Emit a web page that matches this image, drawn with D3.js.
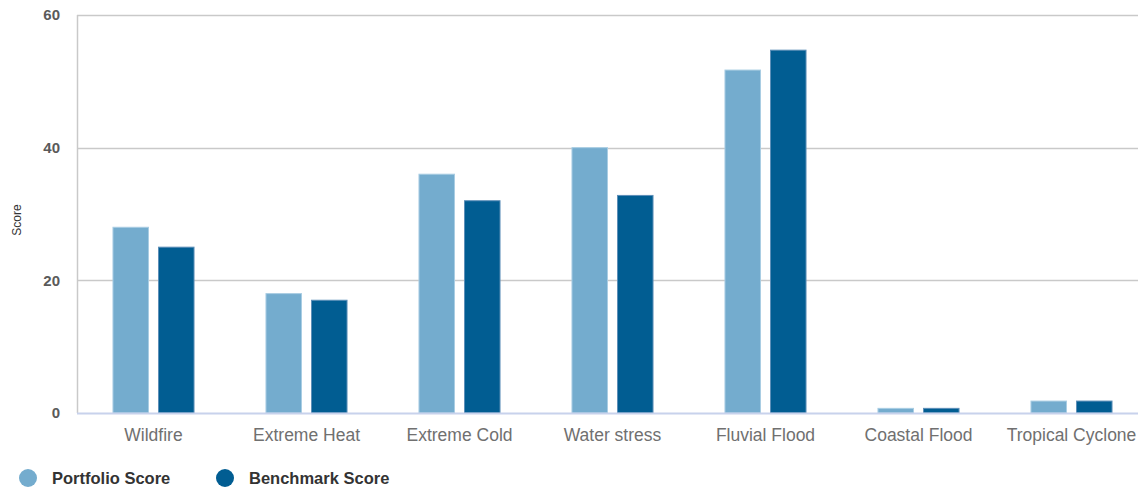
<!DOCTYPE html>
<html>
<head>
<meta charset="utf-8">
<script src="https://cdn.jsdelivr.net/npm/d3@7"></script>
<style>
  html, body { margin: 0; padding: 0; background: #fff; }
  svg { display: block; font-family: "Liberation Sans", Arial, sans-serif; }
</style>
</head>
<body>
<svg id="chart" width="1138" height="487"></svg>
<script>
// Hazard categories and scores
const categories = ["Wildfire", "Extreme Heat", "Extreme Cold", "Water stress", "Fluvial Flood", "Coastal Flood", "Tropical Cyclone"];
const portfolioScore = [28, 18, 36, 40, 51.7, 0.7, 1.8];
const benchmarkScore = [25, 17, 32, 32.8, 54.7, 0.7, 1.8];
const seriesNames = ["Portfolio Score", "Benchmark Score"];
const seriesColors = ["#74acce", "#015d92"];
const yTicks = [0, 20, 40, 60];

const svg = d3.select("#chart");
const margin = { left: 77, top: 15, bottom: 413 };
const plotRight = 1148;

const x = d3.scaleBand().domain(categories).range([margin.left, plotRight]).paddingInner(0).paddingOuter(0);
const x1 = d3.scaleBand().domain(seriesNames).range([0, x.bandwidth()]).paddingInner(0.22).paddingOuter(0.79);
const y = d3.scaleLinear().domain([0, 60]).range([margin.bottom, margin.top]);

// horizontal gridlines
svg.append("g").selectAll("line").data(yTicks.filter(d => d > 0)).join("line")
  .attr("x1", margin.left).attr("x2", 1138)
  .attr("y1", d => Math.round(y(d)) + 0.5).attr("y2", d => Math.round(y(d)) + 0.5)
  .attr("stroke", "#c9c9c9").attr("stroke-width", 1.5);

// y axis line
svg.append("line")
  .attr("x1", margin.left + 0.5).attr("x2", margin.left + 0.5)
  .attr("y1", y(60)).attr("y2", y(0))
  .attr("stroke", "#c9c9c9").attr("stroke-width", 1.5);

// y tick labels
const yAxis = d3.axisLeft(y).tickValues(yTicks).tickSize(0).tickPadding(17);
const gy = svg.append("g").attr("transform", `translate(${margin.left},0)`).call(yAxis);
gy.select(".domain").remove();
gy.selectAll("text").attr("font-size", 15).attr("font-weight", "bold").attr("fill", "#5a5a5a")
  .attr("font-family", "\"Liberation Sans\", Arial, sans-serif");

// y axis title
svg.append("text")
  .attr("transform", `translate(21,${(y(0) + y(60)) / 2 + 6}) rotate(-90)`)
  .attr("text-anchor", "middle").attr("font-size", 12).attr("fill", "#333")
  .text("Score");

// bars
const rows = categories.map((c, i) => ({ cat: c, vals: [portfolioScore[i], benchmarkScore[i]] }));
const groups = svg.append("g").selectAll("g").data(rows).join("g")
  .attr("transform", d => `translate(${x(d.cat)},0)`);
groups.selectAll("rect").data(d => d.vals.map((v, j) => ({ v, s: seriesNames[j], j }))).join("rect")
  .attr("x", d => x1(d.s))
  .attr("width", x1.bandwidth())
  .attr("y", d => y(d.v))
  .attr("height", d => y(0) - y(d.v))
  .attr("fill", d => seriesColors[d.j])
  .attr("stroke", d => d.j === 0 ? "#a9cde3" : "#5d8fb8")
  .attr("stroke-width", 1);

// baseline
svg.append("line")
  .attr("x1", margin.left).attr("x2", 1138)
  .attr("y1", y(0) + 0.5).attr("y2", y(0) + 0.5)
  .attr("stroke", "#c8d2ec").attr("stroke-width", 2);

// category labels
const xAxis = d3.axisBottom(x).tickSize(0).tickPadding(16);
const gx = svg.append("g").attr("transform", `translate(0,${y(0)})`).call(xAxis);
gx.select(".domain").remove();
gx.selectAll("text").attr("font-size", 17.5).attr("fill", "#707070")
  .attr("font-family", "\"Liberation Sans\", Arial, sans-serif");

// legend
const legendX = [28, 225];
const legend = svg.append("g").selectAll("g").data(seriesNames).join("g")
  .attr("transform", (d, i) => `translate(${legendX[i]},478)`);
legend.append("circle").attr("r", 9).attr("fill", (d, i) => seriesColors[i]);
legend.append("text").attr("x", 24).attr("dy", "0.35em")
  .attr("font-size", 16.5).attr("font-weight", "bold").attr("fill", "#333")
  .text(d => d);
</script>
</body>
</html>
